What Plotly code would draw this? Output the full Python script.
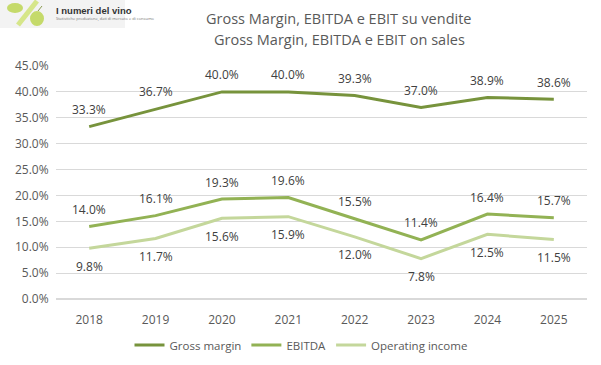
import plotly.graph_objects as go

years = ["2018", "2019", "2020", "2021", "2022", "2023", "2024", "2025"]
gross_margin = [33.3, 36.7, 40.0, 40.0, 39.3, 37.0, 38.9, 38.6]
ebitda = [14.0, 16.1, 19.3, 19.6, 15.5, 11.4, 16.4, 15.7]
operating_income = [9.8, 11.7, 15.6, 15.9, 12.0, 7.8, 12.5, 11.5]
series_names = ["Gross margin", "EBITDA", "Operating income"]
y_ticks = [0, 5, 10, 15, 20, 25, 30, 35, 40, 45]
title_lines = ["Gross Margin, EBITDA e EBIT su vendite", "Gross Margin, EBITDA e EBIT on sales"]

colors = ["#77933C", "#92B254", "#C4D79B"]
label_shift = [17, 17, -18]

W, H = 601, 365
L, R, T, B = 56, 14, 66, 66
PW, PH = W - L - R, H - T - B


def px(xp):
    return (xp - L) / PW


def py(yp):
    return (H - B - yp) / PH


fig = go.Figure()
for name, vals, col, sh in zip(series_names, [gross_margin, ebitda, operating_income], colors, label_shift):
    fig.add_trace(go.Scatter(
        x=years, y=[v / 100 for v in vals], mode="lines", name=name,
        line=dict(color=col, width=3), hoverinfo="skip"))
    for i, v in enumerate(vals):
        fig.add_annotation(
            x=i, y=v / 100, xref="x", yref="y", text=f"{v:.1f}%", showarrow=False,
            yshift=sh, font=dict(size=12, color="#404040"))

for line, yp in zip(title_lines, [18, 40]):
    fig.add_annotation(text=line, x=px(339), y=py(yp), xref="paper", yref="paper",
                       xanchor="center", yanchor="middle", showarrow=False,
                       font=dict(size=14.5, color="#595959"))

# logo
fig.add_shape(type="rect", xref="paper", yref="paper", x0=px(0), x1=px(125), y0=py(28), y1=py(0),
              fillcolor="rgba(232,232,232,0.5)", line=dict(width=0), layer="below")
fig.add_shape(type="line", xref="paper", yref="paper", x0=px(18), y0=py(25), x1=px(37), y1=py(1),
              line=dict(color="#D6E68A", width=5))
fig.add_shape(type="circle", xref="paper", yref="paper", x0=px(7), x1=px(23), y0=py(13), y1=py(3),
              fillcolor="#C5DA6A", line=dict(width=0))
fig.add_shape(type="circle", xref="paper", yref="paper", x0=px(30), x1=px(44), y0=py(26), y1=py(11),
              fillcolor="#C5DA6A", line=dict(width=0))
fig.add_shape(type="line", xref="paper", yref="paper", x0=px(38), y0=py(11), x1=px(42), y1=py(6),
              line=dict(color="#8A9A50", width=1))
fig.add_annotation(text="<b>I numeri del vino</b>", x=px(54), y=py(10), xref="paper", yref="paper",
                   xanchor="left", yanchor="middle", showarrow=False,
                   font=dict(size=9.5, color="#333333", family="Liberation Sans"))
fig.add_annotation(text="Statistiche produzione, dati di mercato e di consumo",
                   x=px(54), y=py(19), xref="paper", yref="paper",
                   xanchor="left", yanchor="middle", showarrow=False,
                   font=dict(size=4, color="#777777"))

fig.update_layout(
    width=W, height=H,
    margin=dict(l=L, r=R, t=T, b=B, autoexpand=False),
    paper_bgcolor="white", plot_bgcolor="white",
    font=dict(family="Open Sans, Liberation Sans, sans-serif", size=12, color="#595959"),
    showlegend=True,
    legend=dict(orientation="h", x=px(301), xanchor="center", y=py(345), yanchor="middle",
                font=dict(size=11.5, color="#595959"), itemwidth=30, tracegroupgap=0),
    xaxis=dict(type="category", range=[-0.5, 7.5], showgrid=False, showline=False,
               ticks="outside", ticklen=10, tickcolor="rgba(0,0,0,0)", automargin=False,
               tickfont=dict(size=12, color="#595959")),
    yaxis=dict(range=[0, 0.45], tickvals=[t / 100 for t in y_ticks], tickformat=".1%",
               showgrid=True, gridcolor="#D9D9D9", gridwidth=1, zeroline=True,
               zerolinecolor="#D9D9D9", showline=False, ticks="outside", ticklen=4,
               tickcolor="rgba(0,0,0,0)", automargin=False,
               tickfont=dict(size=12, color="#595959")),
)

fig.write_html("out.html", post_script="document.body.style.margin='0';",
               config={"displayModeBar": False})
